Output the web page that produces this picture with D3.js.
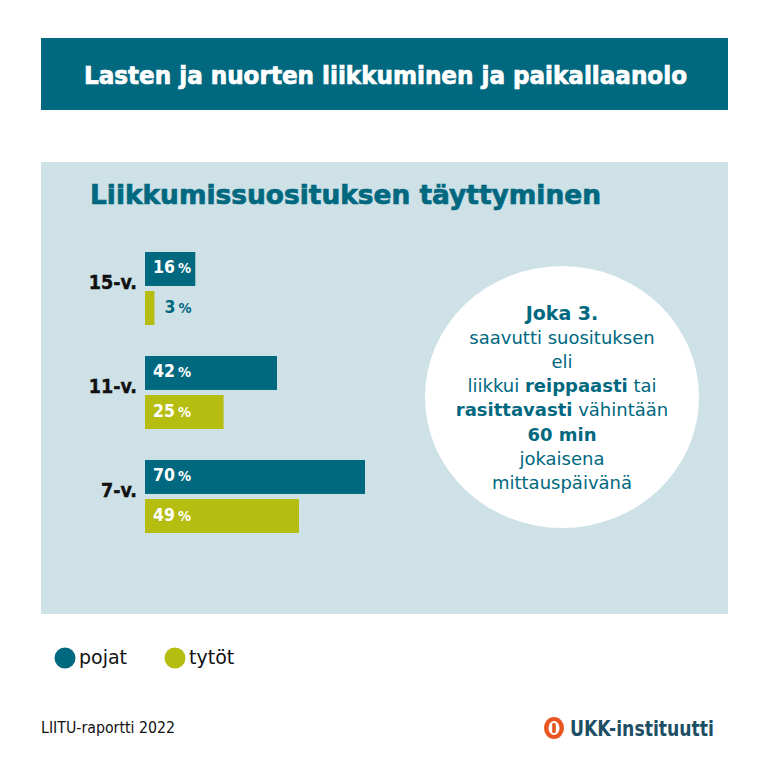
<!DOCTYPE html>
<html><head><meta charset="utf-8">
<script src="https://cdn.jsdelivr.net/npm/d3@7"></script>
<style>html,body{margin:0;padding:0;background:#fff;}svg{display:block;}</style>
</head><body>
<svg id="c" width="770" height="770"></svg>
<script>
const ageGroups = ["15-v.", "11-v.", "7-v."];
const series = ["pojat", "tytöt"];
const pojatValues = [16, 42, 70];
const tytotValues = [3, 25, 49];
const titleText = "Lasten ja nuorten liikkuminen ja paikallaanolo";
const subtitleText = "Liikkumissuosituksen täyttyminen";
const sourceText = "LIITU-raportti 2022";
const logoText = "UKK-instituutti";
const calloutLines = [
  [["Joka 3.", true]],
  [["saavutti suosituksen", false]],
  [["eli", false]],
  [["liikkui ", false], ["reippaasti", true], [" tai", false]],
  [["rasittavasti", true], [" vähintään", false]],
  [["60 min", true]],
  [["jokaisena", false]],
  [["mittauspäivänä", false]]
];

const TEAL = "#00687f", LIME = "#b5bd10", PANEL = "#cde1e6";
const colors = d3.scaleOrdinal().domain(series).range([TEAL, LIME]);
const svg = d3.select("#c");
const FONT = "'DejaVu Sans', sans-serif";
const COND = "'DejaVu Sans Condensed', 'DejaVu Sans', sans-serif";

// header
svg.append("rect").attr("x", 41).attr("y", 38).attr("width", 687).attr("height", 72).attr("fill", TEAL);
svg.append("text").attr("x", 385.5).attr("y", 84).attr("text-anchor", "middle")
  .attr("font-family", COND).attr("font-weight", "bold").attr("font-size", 25).attr("fill", "#fff")
  .attr("stroke", "#fff").attr("stroke-width", 0.7)
  .attr("textLength", 603).attr("lengthAdjust", "spacingAndGlyphs").text(titleText);

// panel
svg.append("rect").attr("x", 41).attr("y", 162).attr("width", 687).attr("height", 452).attr("fill", PANEL);
svg.append("text").attr("x", 90).attr("y", 204)
  .attr("font-family", FONT).attr("font-weight", "bold").attr("font-size", 27).attr("fill", TEAL)
  .attr("stroke", TEAL).attr("stroke-width", 0.7)
  .attr("textLength", 511).attr("lengthAdjust", "spacingAndGlyphs").text(subtitleText);

// scales
const x = d3.scaleLinear().domain([0, 70]).range([145, 365]);
const y = d3.scaleBand().domain(ageGroups).range([252, 533]).paddingInner(0.298);
const ys = d3.scaleBand().domain(series).range([0, y.bandwidth()]).paddingInner(0.13);

const data = ageGroups.map((g, i) => ({ group: g, values: [
  { s: series[0], v: pojatValues[i] }, { s: series[1], v: tytotValues[i] }] }));

const groups = svg.append("g").selectAll("g").data(data).join("g")
  .attr("transform", d => `translate(0,${y(d.group)})`);

groups.append("text")
  .attr("x", 137).attr("y", y.bandwidth() / 2 + 0.5).attr("text-anchor", "end")
  .attr("font-family", COND).attr("font-weight", "bold").attr("font-size", 19.5).attr("fill", "#111")
  .attr("stroke", "#111").attr("stroke-width", 0.4)
  .text(d => d.group);

const bars = groups.selectAll("g.bar").data(d => d.values).join("g").attr("class", "bar");
bars.append("rect")
  .attr("x", x(0)).attr("y", d => ys(d.s))
  .attr("width", d => x(d.v) - x(0)).attr("height", ys.bandwidth())
  .attr("fill", d => colors(d.s));

const lbl = bars.append("text")
  .attr("x", d => (x(d.v) - x(0) > 40) ? x(0) + 8 : x(d.v) + 10)
  .attr("y", d => ys(d.s) + ys.bandwidth() / 2 + 4.5)
  .attr("font-family", COND).attr("font-weight", "bold")
  .attr("fill", d => (x(d.v) - x(0) > 40) ? "#fff" : TEAL);
lbl.append("tspan").attr("font-size", 17.5).text(d => d.v);
lbl.append("tspan").attr("font-size", 14.5).attr("dx", 3).text("%");

// callout circle
svg.append("ellipse").attr("cx", 562).attr("cy", 397).attr("rx", 137).attr("ry", 131).attr("fill", "#fff");
const ct = svg.append("g");
calloutLines.forEach((line, i) => {
  const t = ct.append("text").attr("x", 562).attr("y", 320 + i * 24.1).attr("text-anchor", "middle")
    .attr("font-family", FONT).attr("font-size", i === 0 ? 19 : 18).attr("fill", TEAL);
  line.forEach(([s, b]) => t.append("tspan").attr("font-weight", b ? "bold" : "normal").text(s));
});

// legend
const leg = svg.append("g").selectAll("g").data(series).join("g")
  .attr("transform", (d, i) => `translate(${65 + i * 110},658)`);
leg.append("circle").attr("r", 10.5).attr("fill", d => colors(d));
leg.append("text").attr("x", 14).attr("y", 6).attr("font-family", FONT).attr("font-size", 19)
  .attr("fill", "#111").text(d => d);

// footer
svg.append("text").attr("x", 41).attr("y", 733).attr("font-family", COND).attr("font-size", 15.5)
  .attr("fill", "#111").attr("textLength", 134).attr("lengthAdjust", "spacingAndGlyphs").text(sourceText);
const logo = svg.append("g").attr("transform", "translate(554,728)");
logo.append("ellipse").attr("rx", 10).attr("ry", 11).attr("fill", "#e95420");
logo.append("ellipse").attr("rx", 5.5).attr("ry", 7).attr("fill", "#fff");
logo.append("rect").attr("x", -1.8).attr("y", -5).attr("width", 3.6).attr("height", 10).attr("rx", 1.5).attr("fill", "#e95420");
svg.append("text").attr("x", 570).attr("y", 736).attr("font-family", COND).attr("font-weight", "bold")
  .attr("font-size", 21).attr("fill", "#1d4f64").attr("textLength", 144).attr("lengthAdjust", "spacingAndGlyphs")
  .text(logoText);
</script>
</body></html>
